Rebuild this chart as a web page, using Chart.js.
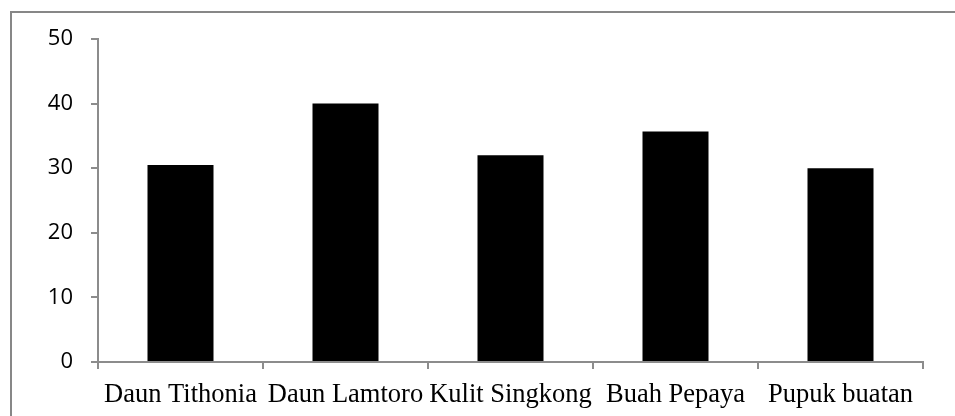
<!DOCTYPE html>
<html>
<head>
<meta charset="utf-8">
<script src="https://cdn.jsdelivr.net/npm/chart.js@4/dist/chart.umd.min.js"></script>
<style>
  html, body { margin: 0; padding: 0; background: #ffffff; }
  #wrap { position: relative; width: 955px; height: 416px; }
</style>
</head>
<body>
<div id="wrap"><canvas id="chart" width="955" height="416"></canvas></div>
<script>
// Perlakuan pupuk dan nilai yang diukur
const categories = ['Daun Tithonia', 'Daun Lamtoro', 'Kulit Singkong', 'Buah Pepaya', 'Pupuk buatan'];
const values = [30.5, 40, 32, 35.7, 30];
const yTicks = [0, 10, 20, 30, 40, 50];

const axisGray = '#8c8c8c';

// Frame around the whole chart object
const framePlugin = {
  id: 'frame',
  beforeDraw(chart) {
    const ctx = chart.ctx;
    ctx.save();
    ctx.fillStyle = '#ffffff';
    ctx.fillRect(0, 0, chart.width, chart.height);
    ctx.strokeStyle = '#878787';
    ctx.lineWidth = 2;
    ctx.strokeRect(11, 12, chart.width + 20, chart.height + 20);
    ctx.restore();
  }
};

new Chart(document.getElementById('chart'), {
  type: 'bar',
  data: {
    labels: categories,
    datasets: [{
      data: values,
      backgroundColor: '#000000',
      borderWidth: 0,
      categoryPercentage: 0.8,
      barPercentage: 0.5
    }]
  },
  options: {
    responsive: false,
    animation: false,
    layout: { padding: { top: 39, right: 32, bottom: 0, left: 0 } },
    plugins: {
      legend: { display: false },
      tooltip: { enabled: false }
    },
    scales: {
      x: {
        offset: true,
        grid: {
          offset: true,
          drawOnChartArea: false,
          drawTicks: true,
          tickLength: 7,
          color: axisGray,
          lineWidth: 2
        },
        border: { display: true, color: axisGray, width: 2 },
        ticks: {
          color: '#000000',
          padding: 10,
          maxRotation: 0,
          autoSkip: false,
          font: { family: '"Liberation Serif", "Times New Roman", serif', size: 26.5 }
        },
        afterFit(scale) { scale.height = 54; }
      },
      y: {
        min: 0,
        max: 50,
        afterBuildTicks(scale) { scale.ticks = yTicks.map(v => ({ value: v })); },
        grid: {
          drawOnChartArea: false,
          drawTicks: true,
          tickLength: 7,
          color: axisGray,
          lineWidth: 2
        },
        border: { display: true, color: axisGray, width: 2 },
        ticks: {
          color: '#000000',
          padding: 18,
          font: { family: '"Open Sans", "Liberation Sans", sans-serif', size: 22 }
        },
        afterFit(scale) { scale.width = 98; }
      }
    }
  },
  plugins: [framePlugin]
});
</script>
</body>
</html>
